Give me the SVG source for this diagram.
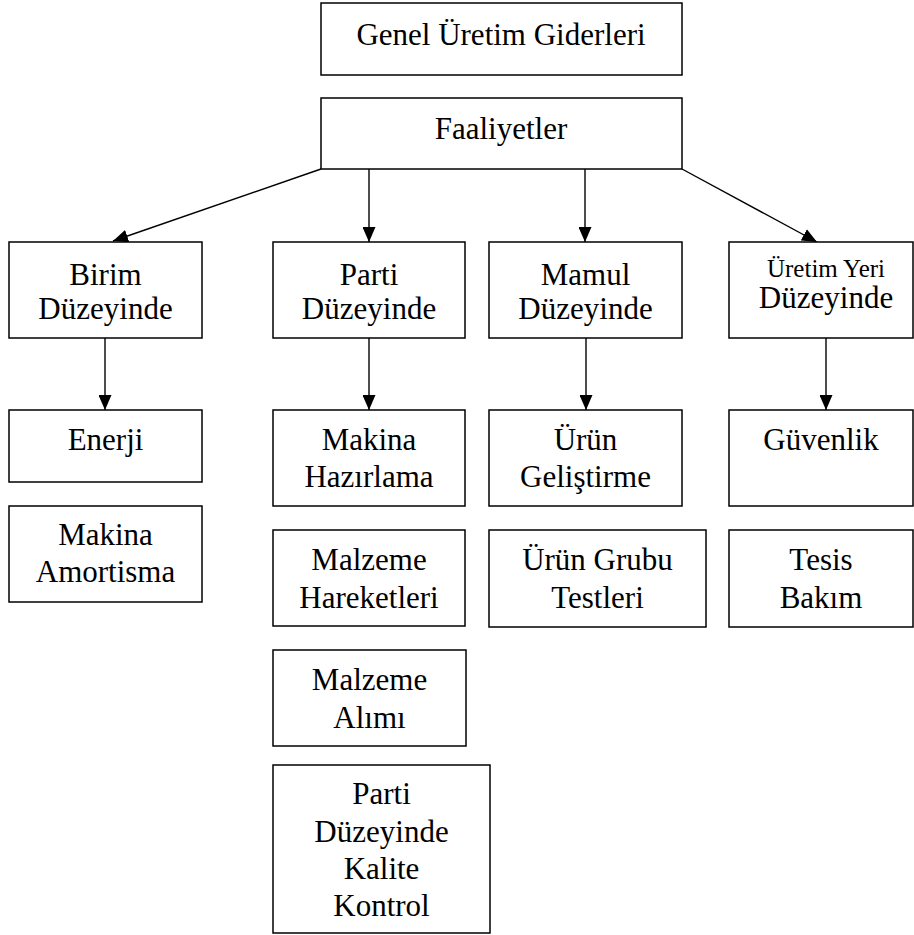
<svg xmlns="http://www.w3.org/2000/svg" width="914" height="935" viewBox="0 0 914 935">
  <style>
    .box { fill: #ffffff; stroke: #000000; stroke-width: 1.5; }
    .lbl { font-family: "Liberation Serif", "Times New Roman", "DejaVu Serif", serif; font-size: 31px; fill: #000000; text-anchor: middle; }
    .sm { font-size: 25px; }
    .link { stroke: #000000; stroke-width: 1.4; fill: none; marker-end: url(#arrow); }
  </style>
  <defs>
    <marker id="arrow" markerUnits="userSpaceOnUse" markerWidth="15" markerHeight="13" refX="15" refY="6.5" orient="auto">
      <path d="M0,0 L15,6.5 L0,13 z" fill="#000000"/>
    </marker>
  </defs>

  <rect width="914" height="935" fill="#ffffff"/>

  <!-- connectors -->
  <g id="connectors">
    <line class="link" x1="321" y1="169" x2="113" y2="241"/>
    <line class="link" x1="369" y1="169" x2="369" y2="242"/>
    <line class="link" x1="585" y1="169" x2="585" y2="242"/>
    <line class="link" x1="682" y1="169" x2="817" y2="242"/>
    <line class="link" x1="105" y1="338" x2="105" y2="410"/>
    <line class="link" x1="369" y1="338" x2="369" y2="410"/>
    <line class="link" x1="586" y1="338" x2="586" y2="410"/>
    <line class="link" x1="826" y1="338" x2="826" y2="410"/>
  </g>

  <!-- top level -->
  <g id="genel-uretim-giderleri">
    <rect class="box" x="321" y="3" width="361" height="72"/>
    <text class="lbl" x="501" y="45">Genel Üretim Giderleri</text>
  </g>
  <g id="faaliyetler">
    <rect class="box" x="321" y="98" width="361" height="71"/>
    <text class="lbl" x="501" y="139">Faaliyetler</text>
  </g>

  <!-- activity levels -->
  <g id="birim-duzeyinde">
    <rect class="box" x="9" y="242" width="193" height="96"/>
    <text class="lbl" x="105.5" y="285">Birim</text>
    <text class="lbl" x="105.5" y="319">Düzeyinde</text>
  </g>
  <g id="parti-duzeyinde">
    <rect class="box" x="273" y="242" width="192" height="96"/>
    <text class="lbl" x="369" y="285">Parti</text>
    <text class="lbl" x="369" y="319">Düzeyinde</text>
  </g>
  <g id="mamul-duzeyinde">
    <rect class="box" x="489" y="242" width="193" height="96"/>
    <text class="lbl" x="585.5" y="285">Mamul</text>
    <text class="lbl" x="585.5" y="319">Düzeyinde</text>
  </g>
  <g id="uretim-yeri-duzeyinde">
    <rect class="box" x="729" y="242" width="184" height="96"/>
    <text class="lbl sm" x="826" y="277">Üretim Yeri</text>
    <text class="lbl" x="826" y="308">Düzeyinde</text>
  </g>

  <!-- unit level -->
  <g id="enerji">
    <rect class="box" x="9" y="410" width="193" height="72"/>
    <text class="lbl" x="105.5" y="450">Enerji</text>
  </g>
  <g id="makina-amortisma">
    <rect class="box" x="9" y="506" width="193" height="96"/>
    <text class="lbl" x="105.5" y="545">Makina</text>
    <text class="lbl" x="105.5" y="582">Amortisma</text>
  </g>

  <!-- batch level -->
  <g id="makina-hazirlama">
    <rect class="box" x="273" y="410" width="192" height="96"/>
    <text class="lbl" x="369" y="450">Makina</text>
    <text class="lbl" x="369" y="487">Hazırlama</text>
  </g>
  <g id="malzeme-hareketleri">
    <rect class="box" x="273" y="530" width="192" height="96"/>
    <text class="lbl" x="369" y="570">Malzeme</text>
    <text class="lbl" x="369" y="608">Hareketleri</text>
  </g>
  <g id="malzeme-alimi">
    <rect class="box" x="273" y="650" width="193" height="96"/>
    <text class="lbl" x="369.5" y="690">Malzeme</text>
    <text class="lbl" x="369.5" y="728">Alımı</text>
  </g>
  <g id="parti-kalite-kontrol">
    <rect class="box" x="273" y="765" width="217" height="168"/>
    <text class="lbl" x="381.5" y="804">Parti</text>
    <text class="lbl" x="381.5" y="842">Düzeyinde</text>
    <text class="lbl" x="381.5" y="879">Kalite</text>
    <text class="lbl" x="381.5" y="916">Kontrol</text>
  </g>

  <!-- product level -->
  <g id="urun-gelistirme">
    <rect class="box" x="489" y="410" width="193" height="96"/>
    <text class="lbl" x="585.5" y="450">Ürün</text>
    <text class="lbl" x="585.5" y="487">Geliştirme</text>
  </g>
  <g id="urun-grubu-testleri">
    <rect class="box" x="489" y="530" width="217" height="97"/>
    <text class="lbl" x="597.5" y="570">Ürün Grubu</text>
    <text class="lbl" x="597.5" y="608">Testleri</text>
  </g>

  <!-- facility level -->
  <g id="guvenlik">
    <rect class="box" x="729" y="410" width="184" height="96"/>
    <text class="lbl" x="821" y="450">Güvenlik</text>
  </g>
  <g id="tesis-bakim">
    <rect class="box" x="729" y="530" width="184" height="97"/>
    <text class="lbl" x="821" y="570">Tesis</text>
    <text class="lbl" x="821" y="608">Bakım</text>
  </g>
</svg>
